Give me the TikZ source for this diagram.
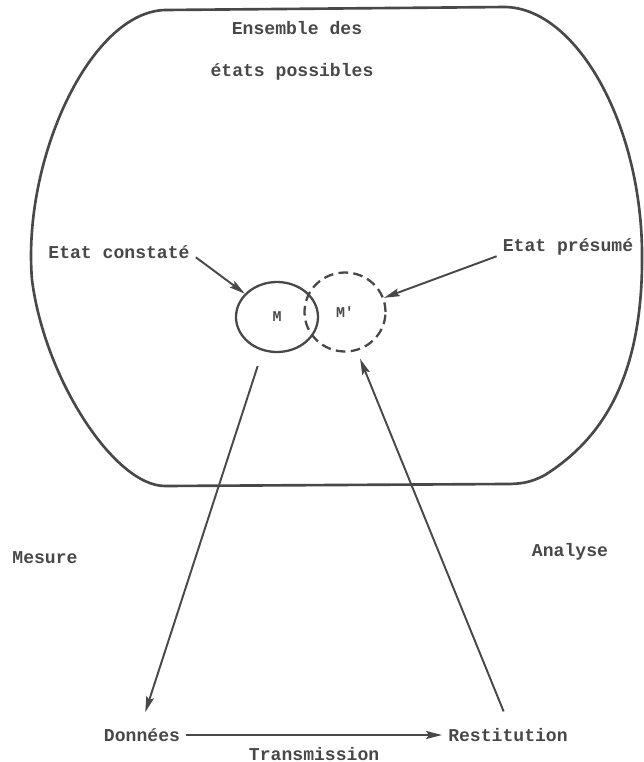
\documentclass[tikz,border=0pt]{standalone}
\usepackage{fontspec}
\setmonofont{Liberation Mono}
\usetikzlibrary{arrows.meta,shapes.geometric}
\definecolor{ink}{RGB}{72,72,72}
\tikzset{
  >={Stealth[length=9pt,width=4.5pt,inset=1.5pt]},
  lbl/.style={text=ink,font=\fontsize{10.3}{12}\selectfont\ttfamily\bfseries},
  state/.style={ellipse,draw=ink,line width=1.3pt,inner sep=0pt,text=ink,
    font=\fontsize{8.5}{10}\selectfont\ttfamily\bfseries},
  flow/.style={->,draw=ink,line width=1.1pt},
  outline/.style={draw=ink,line width=1.5pt},
}
\begin{document}
\begin{tikzpicture}[x=0.02cm,y=-0.02cm]
  \useasboundingbox (0,0) rectangle (644,762);
  % set of possible states
  \draw[outline] (165,10) -- (505,7) .. controls (575,8) and (640,120) .. (642,250)
    .. controls (644,380) and (600,440) .. (545,475) .. controls (530,483) and (520,484) .. (505,484)
    -- (165,486) .. controls (115,486) and (45,380) .. (32,280)
    .. controls (22,160) and (90,12) .. (165,10) -- cycle;
  \node[lbl] (ens) at (297,28) {Ensemble des};
  \node[lbl] (etats) at (292,72) {états possibles};
  \node[state,minimum width=1.64cm,minimum height=1.40cm] (M) at (277,317) {M};
  \node[state,dash pattern=on 5.5pt off 3pt,minimum width=1.62cm,minimum height=1.58cm] (Mp) at (345,312) {M'};
  \node[lbl] (const) at (119,252) {Etat constaté};
  \node[lbl] (pres) at (568,247) {Etat présumé};
  \node[lbl] (mes) at (45,558) {Mesure};
  \node[lbl] (ana) at (570,552) {Analyse};
  \node[lbl] (don) at (142,735) {Données};
  \node[lbl] (rest) at (508,735) {Restitution};
  \draw[flow] ([yshift=-3pt]const.east) -- (M.144);
  \draw[flow] ([yshift=3pt]pres.south west) -- (Mp.20);
  \draw[flow,shorten <=9pt,shorten >=6pt] (M.247) -- (don.north);
  \draw[flow,shorten <=6.6pt,shorten >=4.8pt] (rest.north) -- (Mp.287);
  \draw[flow] (don) -- node[lbl,below=3pt] (trans) {Transmission} (rest);
\end{tikzpicture}
\end{document}
